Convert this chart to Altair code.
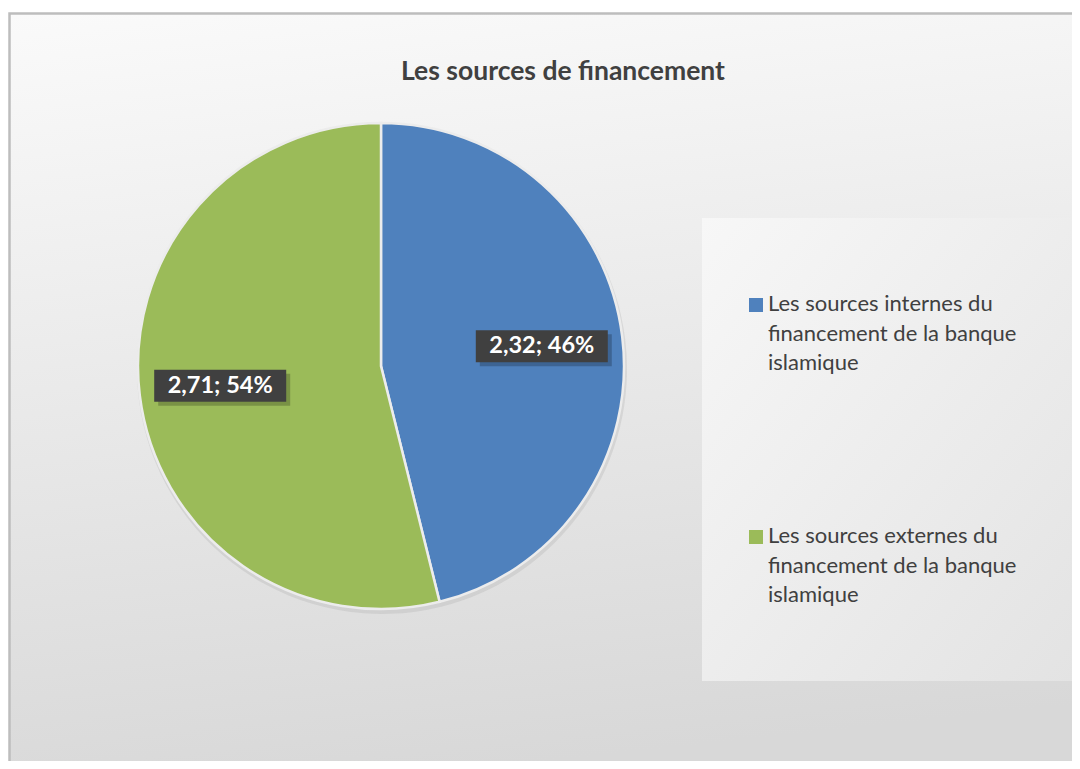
import altair as alt
import pandas as pd

# ---- data ----
categories = [
    "Les sources internes du financement de la banque islamique",
    "Les sources externes du financement de la banque islamique",
]
values = [2.32, 2.71]
colors = ["#4F81BD", "#9BBB59"]
legend_lines = [
    ["Les sources internes du", "financement de la banque", "islamique"],
    ["Les sources externes du", "financement de la banque", "islamique"],
]
title_text = "Les sources de financement"

W, H = 1064, 753
CX, CY, R = 373, 358, 243
LR = 162  # label radius

df = pd.DataFrame({"category": categories, "value": values, "idx": [0, 1]})
one = pd.DataFrame({"a": [0]})

# background with border
bg = alt.Chart(one).mark_rect(
    fill=alt.LinearGradient(
        gradient="linear",
        stops=[alt.GradientStop(offset=0, color="#fafafa"),
               alt.GradientStop(offset=1, color="#d8d8d8")],
        x1=0, y1=0, x2=0.15, y2=1),
    stroke="#bdbdbd", strokeWidth=2.5,
).encode(x=alt.value(1.5), y=alt.value(5.5), x2=alt.value(W + 40), y2=alt.value(H + 40))

# legend panel
panel = alt.Chart(one).mark_rect(
    fill=alt.LinearGradient(
        gradient="linear",
        stops=[alt.GradientStop(offset=0, color="#f7f7f7"),
               alt.GradientStop(offset=1, color="#e3e3e3")],
        x1=0, y1=0, x2=1, y2=1),
).encode(x=alt.value(694), y=alt.value(210), x2=alt.value(1067), y2=alt.value(673))

title = alt.Chart(one).mark_text(
    text=title_text, font="Lato", fontSize=26.5, fontWeight="bold", color="#404040",
    align="center", baseline="alphabetic",
).encode(x=alt.value(555), y=alt.value(72))

color_enc = alt.Color("category:N", scale=alt.Scale(domain=categories, range=colors), legend=None)

shadow = alt.Chart(df).mark_arc(radius=R + 2, color="#9a9a9a", opacity=0.22).encode(
    theta=alt.Theta("value:Q", stack=True), order=alt.Order("idx:Q"),
    x=alt.value(CX + 1), y=alt.value(CY + 3),
)

pie = alt.Chart(df).mark_arc(radius=R, stroke="#ececec", strokeWidth=2.5).encode(
    theta=alt.Theta("value:Q", stack=True),
    color=color_enc,
    order=alt.Order("idx:Q"),
    x=alt.value(CX), y=alt.value(CY),
)

lab_base = alt.Chart(df).transform_window(
    cum="sum(value)", sort=[alt.SortField("idx")]
).transform_joinaggregate(total="sum(value)").transform_calculate(
    ang="2*PI*(datum.cum - datum.value/2)/datum.total",
    lx=f"{CX} + {LR}*sin(datum.ang)",
    ly=f"{CY} - {LR}*cos(datum.ang)",
    x0="datum.lx - 66", x1="datum.lx + 66",
    y0="datum.ly - 16", y1="datum.ly + 16",
    sx0="datum.x0 + 4", sx1="datum.x1 + 4", sy0="datum.y0 + 4", sy1="datum.y1 + 4",
    label="replace(format(datum.value, '.2f'), '.', ',') + '; ' + format(datum.value/datum.total, '.0%')",
)

box_shadow = lab_base.mark_rect(color="#000000", opacity=0.22).encode(
    x=alt.X("sx0:Q", scale=None), x2="sx1:Q",
    y=alt.Y("sy0:Q", scale=None), y2="sy1:Q",
)
box = lab_base.mark_rect(color="#404040").encode(
    x=alt.X("x0:Q", scale=None), x2="x1:Q",
    y=alt.Y("y0:Q", scale=None), y2="y1:Q",
)
lab_text = lab_base.mark_text(
    font="Lato", fontSize=23.5, fontWeight="bold", color="white",
    align="center", baseline="middle",
).encode(
    x=alt.X("lx:Q", scale=None), y=alt.Y("ly:Q", scale=None), text="label:N",
)

# legend (manual)
leg_layers = []
entry_y = [303, 535]
for i, cat in enumerate(categories):
    sq = alt.Chart(one).mark_square(size=196, color=colors[i], opacity=1, filled=True).encode(
        x=alt.value(748), y=alt.value(entry_y[i] - 6)
    )
    tx = alt.Chart(one).mark_text(
        text=legend_lines[i], font="Lato", fontSize=22, color="#404040",
        align="left", baseline="alphabetic", lineHeight=29.5,
    ).encode(x=alt.value(760), y=alt.value(entry_y[i]))
    leg_layers += [sq, tx]

chart = alt.layer(
    bg, panel, title, shadow, pie, box_shadow, box, lab_text, *leg_layers
).properties(
    width=W, height=H, padding=0,
    autosize=alt.AutoSizeParams(type="none"),
).configure_view(stroke=None)

chart.save("out.html", embed_options={"renderer": "svg", "actions": False})
